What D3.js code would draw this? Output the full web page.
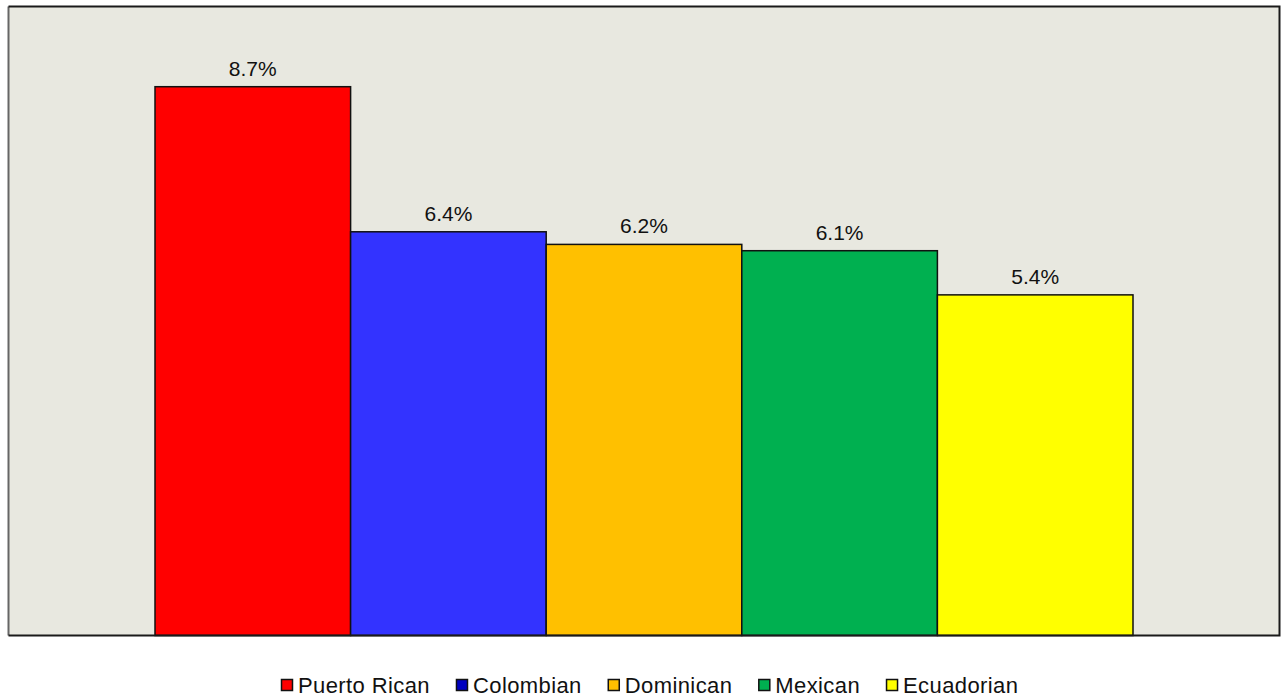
<!DOCTYPE html>
<html>
<head>
<meta charset="utf-8">
<script src="https://cdn.jsdelivr.net/npm/d3@7"></script>
<style>
  body { margin: 0; background: #fff; }
  text { font-family: "Liberation Sans", Arial, sans-serif; fill: #111; }
</style>
</head>
<body>
<div id="chart"></div>
<script>
// Chart data
var categories = ['Puerto Rican', 'Colombian', 'Dominican', 'Mexican', 'Ecuadorian'];
var values = [8.7, 6.4, 6.2, 6.1, 5.4];
var barColors = ['#ff0000', '#3333ff', '#ffc000', '#00b050', '#ffff00'];
var legendColors = ['#ff0000', '#0000c0', '#ffc000', '#00b050', '#ffff00'];

(function () {
  var W = 1283, H = 700;
  // plot frame
  var plot = {left: 8.5, top: 6.5, right: 1279.5, bottom: 635.5};

  var svg = d3.select('#chart')
      .append('svg')
      .attr('width', W)
      .attr('height', H);

  // x band scale for the bars
  var x = d3.scaleBand()
      .domain(categories)
      .range([155, 1133])
      .padding(0);

  // y scale 0-10 (top of axis sits just above the frame)
  var y = d3.scaleLinear()
      .domain([0, 10])
      .range([plot.bottom, plot.top - 1.8]);

  // plot background
  svg.append('rect')
      .attr('x', plot.left)
      .attr('y', plot.top)
      .attr('width', plot.right - plot.left)
      .attr('height', plot.bottom - plot.top)
      .attr('fill', '#e8e8e0');

  // bars
  svg.selectAll('.bar')
      .data(values)
      .enter().append('rect')
      .attr('class', 'bar')
      .attr('x', function(d, i) { return x(categories[i]); })
      .attr('y', function(d) { return y(d); })
      .attr('width', x.bandwidth())
      .attr('height', function(d) { return plot.bottom - y(d); })
      .attr('fill', function(d, i) { return barColors[i]; })
      .attr('stroke', '#111')
      .attr('stroke-width', 1.5);

  // value labels
  svg.selectAll('.label')
      .data(values)
      .enter().append('text')
      .attr('class', 'label')
      .attr('x', function(d, i) { return x(categories[i]) + x.bandwidth() / 2; })
      .attr('y', function(d) { return y(d) - 11; })
      .attr('text-anchor', 'middle')
      .style('font-size', '21px')
      .text(function(d) { return d.toFixed(1) + '%'; });

  // frame lines: left gray, others dark
  svg.append('line')
      .attr('x1', plot.left).attr('x2', plot.left)
      .attr('y1', plot.top).attr('y2', plot.bottom)
      .attr('stroke', '#666').attr('stroke-width', 2);
  svg.append('path')
      .attr('d', 'M' + plot.left + ',' + plot.top + 'H' + plot.right + 'V' + plot.bottom + 'H' + plot.left)
      .attr('fill', 'none')
      .attr('stroke', '#1a1a1a')
      .attr('stroke-width', 2);

  // legend
  var legend = svg.append('g').attr('transform', 'translate(0,679)');
  var cursor = 281;
  categories.forEach(function(c, i) {
    var g = legend.append('g').attr('transform', 'translate(' + cursor + ',0)');
    g.append('rect')
        .attr('x', 0.5).attr('y', 0.5)
        .attr('width', 11).attr('height', 11)
        .attr('fill', legendColors[i])
        .attr('stroke', '#111')
        .attr('stroke-width', 1.5);
    var t = g.append('text')
        .attr('x', 17)
        .attr('y', 14)
        .style('font-size', '22px')
        .style('letter-spacing', '0.4px')
        .text(c);
    cursor += 17 + t.node().getComputedTextLength() + 26;
  });
})();
</script>
</body>
</html>
